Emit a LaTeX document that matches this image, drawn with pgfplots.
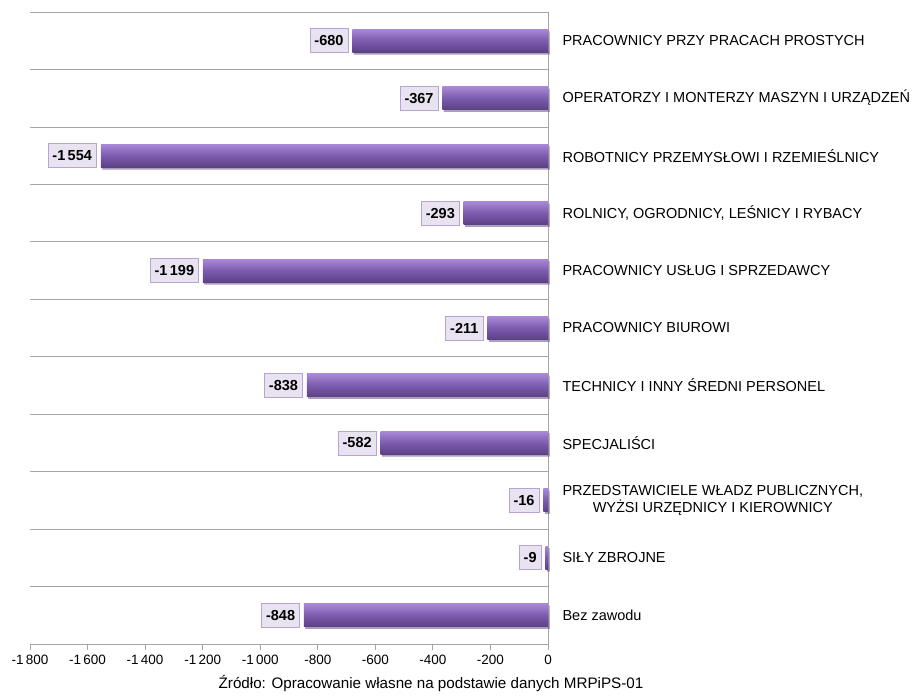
\documentclass[border=0pt]{standalone}
\usepackage{pgfplots}
\pgfplotsset{compat=1.18}
\usepackage{fontspec}
\setmainfont{Liberation Sans}
\usetikzlibrary{shadows}

\definecolor{barTop}{HTML}{A888D6}
\definecolor{barMid}{HTML}{7C5BAE}
\definecolor{barBot}{HTML}{5C4086}
\definecolor{lblFill}{HTML}{E9E3F1}
\definecolor{lblDraw}{HTML}{B8A4D2}
\definecolor{gridGray}{HTML}{A6A6A6}

\pgfplotsset{
  mybar/.style={draw=none, bar shift=0pt, forget plot,
    top color=barTop, bottom color=barBot, middle color=barMid,
    drop shadow={opacity=0.35, shadow xshift=1.5pt, shadow yshift=-2pt}},
}

\begin{document}
\begin{tikzpicture}
  \begin{axis}[
    name=ax,
    scale only axis,
    width=518pt, height=632pt,
    xbar, bar width=23pt,
    xmin=-1800, xmax=0,
    ymin=-0.5, ymax=10.5,
    xtick={-1800,-1600,...,0},
    xtick align=outside,
    major tick length=6pt,
    axis x line*=bottom,
    axis y line*=right,
    axis line style={gridGray, line width=0.8pt},
    every tick/.style={gridGray, line width=0.8pt},
    /pgf/number format/assume math mode=true,
    /pgf/number format/1000 sep={\,},
    xticklabel style={yshift=-2pt, font=\fontsize{13.5}{15}\selectfont},
    ytick={0,...,10},
    yticklabels={
      Bez zawodu,
      SIŁY ZBROJNE,
      {PRZEDSTAWICIELE WŁADZ PUBLICZNYCH,\\WYŻSI URZĘDNICY I KIEROWNICY},
      SPECJALIŚCI,
      TECHNICY I INNY ŚREDNI PERSONEL,
      PRACOWNICY BIUROWI,
      PRACOWNICY USŁUG I SPRZEDAWCY,
      {ROLNICY, OGRODNICY, LEŚNICY I RYBACY},
      ROBOTNICY PRZEMYSŁOWI I RZEMIEŚLNICY,
      OPERATORZY I MONTERZY MASZYN I URZĄDZEŃ,
      PRACOWNICY PRZY PRACACH PROSTYCH},
    yticklabel style={align=center, anchor=west, xshift=5pt, font=\fontsize{14.5}{17}\selectfont},
    y tick style={draw=none},
    minor ytick={-0.5,0.5,...,10.5},
    yminorgrids,
    minor grid style={gridGray, line width=0.8pt},
    nodes near coords,
    point meta=x,
    every node near coord/.append style={
      anchor=east, xshift=-4pt,
      fill=lblFill, draw=lblDraw, line width=0.7pt,
      font=\bfseries\fontsize{14.5}{16}\selectfont,
      inner xsep=4.5pt, inner ysep=3pt, minimum height=24pt},
    clip=false,
  ]
  \addplot[mybar] coordinates {(-848,0)};
  \addplot[mybar] coordinates {(-9,1)};
  \addplot[mybar] coordinates {(-16,2)};
  \addplot[mybar] coordinates {(-582,3)};
  \addplot[mybar] coordinates {(-838,4)};
  \addplot[mybar] coordinates {(-211,5)};
  \addplot[mybar] coordinates {(-1199,6)};
  \addplot[mybar] coordinates {(-293,7)};
  \addplot[mybar] coordinates {(-1554,8)};
  \addplot[mybar] coordinates {(-367,9)};
  \addplot[mybar] coordinates {(-680,10)};
  \end{axis}
  \node[font=\fontsize{15.2}{17}\selectfont] at ([xshift=401pt,yshift=-39pt]ax.south west)
    {Źródło: Opracowanie własne na podstawie danych MRPiPS-01};
  \path[use as bounding box] ([xshift=-30pt,yshift=-53pt]ax.south west)
    rectangle ([xshift=375pt,yshift=12pt]ax.north east);
\end{tikzpicture}
\end{document}
